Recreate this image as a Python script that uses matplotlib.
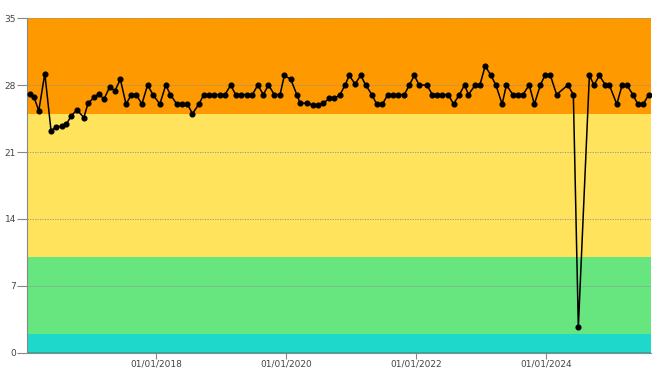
import numpy as np
import pandas as pd
import matplotlib
matplotlib.use("Agg")
import matplotlib.pyplot as plt
import matplotlib.dates as mdates

dates = [
    "2016-01-26", "2016-02-16", "2016-03-13", "2016-04-16", "2016-05-21", "2016-06-15",
    "2016-07-20", "2016-08-15", "2016-09-12", "2016-10-14", "2016-11-21", "2016-12-15",
    "2017-01-18", "2017-02-14", "2017-03-14", "2017-04-15", "2017-05-15", "2017-06-14",
    "2017-07-16", "2017-08-15", "2017-09-11", "2017-10-13", "2017-11-14", "2017-12-14",
    "2018-01-22", "2018-02-24", "2018-03-22", "2018-04-27", "2018-05-27", "2018-06-26",
    "2018-07-24", "2018-08-29", "2018-09-26", "2018-10-26", "2018-11-24", "2018-12-25",
    "2019-01-23", "2019-02-24", "2019-03-23", "2019-04-25", "2019-05-27", "2019-06-26",
    "2019-07-26", "2019-08-26", "2019-09-24", "2019-10-27", "2019-11-28", "2019-12-22",
    "2020-01-27", "2020-03-01", "2020-03-20", "2020-04-30", "2020-05-30", "2020-06-30",
    "2020-07-28", "2020-08-31", "2020-09-28", "2020-10-30", "2020-11-27", "2020-12-21",
    "2021-01-22", "2021-02-23", "2021-03-23", "2021-04-26", "2021-05-24", "2021-06-25",
    "2021-07-25", "2021-08-25", "2021-09-22", "2021-10-26", "2021-11-23", "2021-12-21",
    "2022-01-17", "2022-03-01", "2022-04-01", "2022-04-28", "2022-05-24", "2022-06-30",
    "2022-07-29", "2022-08-31", "2022-09-29", "2022-10-21", "2022-11-28", "2022-12-24",
    "2023-01-23", "2023-02-24", "2023-03-24", "2023-04-28", "2023-05-22", "2023-06-27",
    "2023-07-25", "2023-08-23", "2023-09-27", "2023-10-26", "2023-11-29", "2023-12-24",
    "2024-01-24", "2024-02-28", "2024-05-01", "2024-06-01", "2024-06-29", "2024-08-30",
    "2024-09-25", "2024-10-25", "2024-11-28", "2024-12-20", "2025-01-31", "2025-03-02",
    "2025-03-28", "2025-05-01", "2025-05-29", "2025-06-28", "2025-07-30",
]
values = [
    27.1, 26.7, 25.3, 29.2, 23.2, 23.6,
    23.7, 23.9, 24.8, 25.4, 24.6, 26.1,
    26.7, 27.1, 26.5, 27.8, 27.4, 28.6,
    26.0, 27.0, 27.0, 26.0, 28.0, 27.0,
    26.0, 28.0, 27.0, 26.0, 26.0, 26.0,
    25.0, 26.0, 27.0, 27.0, 27.0, 27.0,
    27.0, 28.0, 27.0, 27.0, 27.0, 27.0,
    28.0, 27.0, 28.0, 27.0, 27.0, 29.0,
    28.6, 27.0, 26.1, 26.1, 25.9, 25.9,
    26.1, 26.6, 26.6, 27.0, 28.0, 29.0,
    28.1, 29.0, 28.0, 27.0, 26.0, 26.0,
    27.0, 27.0, 27.0, 27.0, 28.0, 29.0,
    28.0, 28.0, 27.0, 27.0, 27.0, 27.0,
    26.0, 27.0, 28.0, 27.0, 28.0, 28.0,
    30.0, 29.0, 28.0, 26.0, 28.0, 27.0,
    27.0, 27.0, 28.0, 26.0, 28.0, 29.0,
    29.0, 27.0, 28.0, 27.0, 2.7, 29.0,
    28.0, 29.0, 28.0, 28.0, 26.0, 28.0,
    28.0, 27.0, 26.0, 26.0, 27.0,
]

# colour bands (lower, upper, colour)
band_edges = [0, 2, 10, 25, 35]
band_colors = ["#1dd8cb", "#67e57f", "#ffe35c", "#ff9900"]
y_ticks = [0, 7, 14, 21, 28, 35]
x_ticks = ["2018-01-01", "2020-01-01", "2022-01-01", "2024-01-01"]

x = pd.to_datetime(dates)

fig = plt.figure(figsize=(6.67, 3.77), dpi=100)
ax = fig.add_axes([0.0405, 0.0637, 0.9355, 0.8885])

for lo, hi, c in zip(band_edges[:-1], band_edges[1:], band_colors):
    ax.axhspan(lo, hi, color=c, lw=0, zorder=0)
ax.axhline(0, color="#19a99f", lw=1.2, zorder=1)

for t in y_ticks[1:]:
    ax.axhline(t, color="#8f8f8f", lw=0.6, ls=(0, (1.5, 1.5)), zorder=1)

ax.plot(x, values, color="black", lw=1.1, marker="o", ms=3.4, zorder=3)

ax.set_ylim(0, 35)
ax.set_xlim(pd.Timestamp("2016-01-07"), pd.Timestamp("2025-08-11"))
ax.set_yticks(y_ticks)
ax.set_xticks(pd.to_datetime(x_ticks))
ax.xaxis.set_major_formatter(mdates.DateFormatter("%d/%m/%Y"))

for s in ["top", "right"]:
    ax.spines[s].set_visible(False)
ax.spines["left"].set_color("#888888")
ax.spines["bottom"].set_color("#888888")
ax.tick_params(axis="y", length=7, width=0.8, color="#888888", labelsize=6.5,
               labelcolor="#444444", pad=1)
ax.tick_params(axis="x", length=4, width=0.8, color="#888888", labelsize=6.5,
               labelcolor="#444444", pad=1)

fig.savefig("out.png", dpi=100)
